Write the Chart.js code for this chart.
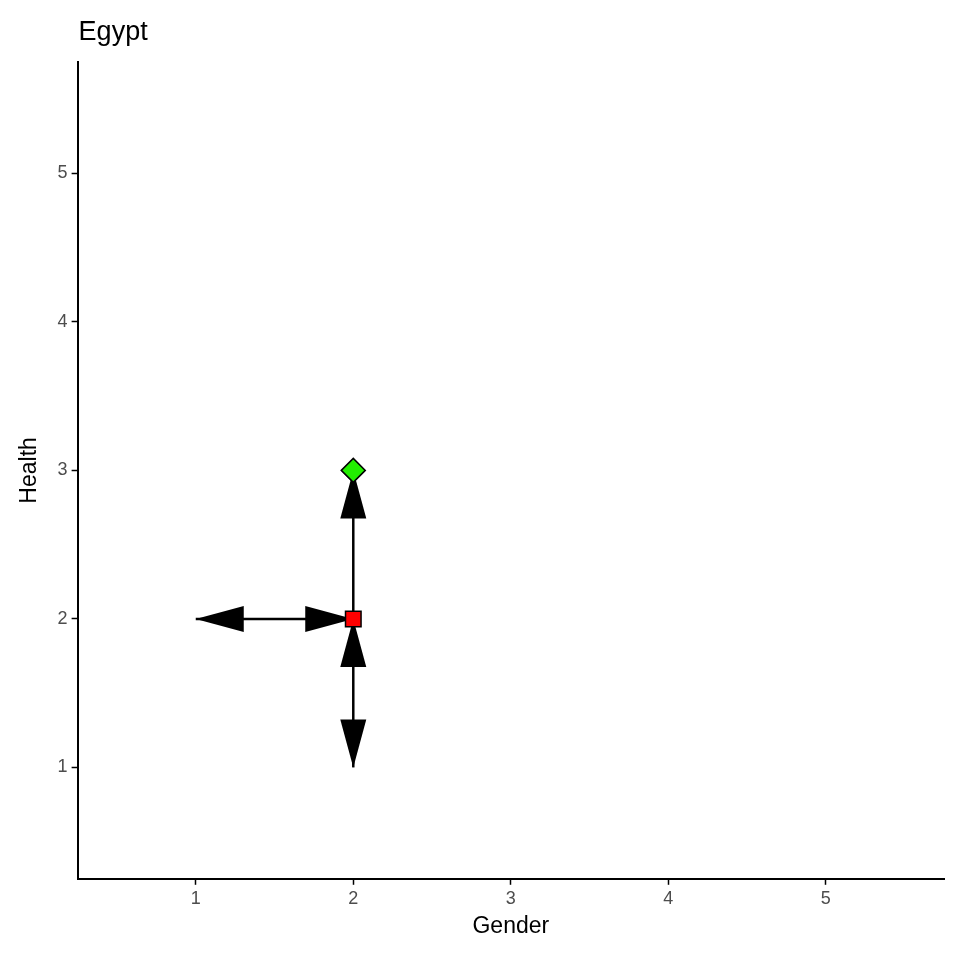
<!DOCTYPE html>
<html><head><meta charset="utf-8">
<script src="https://cdn.jsdelivr.net/npm/chart.js"></script>
<style>html,body{margin:0;padding:0;background:#fff}#w{width:960px;height:960px}</style>
</head><body><div id="w"><canvas id="c"></canvas></div>
<script>
const chartTitle = 'Egypt';
const tickValues = [1,2,3,4,5];
const squarePoints = [{x:2,y:2}];
const diamondPoints = [{x:2,y:3}];
// arrows: from, to, heads at start/end
const arrowFrom = [[2,2],[2,2],[2,2]];
const arrowTo   = [[1,2],[2,1],[2,3]];
const arrowStartHead = [true,true,false];
const arrowEndHead   = [true,true,true];

const arrowPlugin = {
  id:'arrows',
  beforeDatasetsDraw(chart){
    const {ctx, scales:{x,y}} = chart;
    ctx.save();
    ctx.strokeStyle='#000'; ctx.fillStyle='#000'; ctx.lineWidth=2.5;
    const head=(px,py,dx,dy)=>{
      const L=48,W=13;
      const bx=px-dx*L, by=py-dy*L;
      ctx.beginPath();
      ctx.moveTo(px,py);
      ctx.lineTo(bx-dy*W,by+dx*W);
      ctx.lineTo(bx+dy*W,by-dx*W);
      ctx.closePath(); ctx.fill();
    };
    for(let i=0;i<arrowFrom.length;i++){
      const x0=x.getPixelForValue(arrowFrom[i][0]), y0=y.getPixelForValue(arrowFrom[i][1]);
      const x1=x.getPixelForValue(arrowTo[i][0]), y1=y.getPixelForValue(arrowTo[i][1]);
      ctx.beginPath(); ctx.moveTo(x0,y0); ctx.lineTo(x1,y1); ctx.stroke();
      const len=Math.hypot(x1-x0,y1-y0), dx=(x1-x0)/len, dy=(y1-y0)/len;
      if(arrowEndHead[i]) head(x1,y1,dx,dy);
      if(arrowStartHead[i]) head(x0,y0,-dx,-dy);
    }
    ctx.restore();
  },
  afterDraw(chart){
    const ctx=chart.ctx;
    ctx.save();
    ctx.fillStyle='#000';ctx.font='27px "Liberation Sans", Arial';
    ctx.textBaseline='alphabetic';ctx.textAlign='left';
    ctx.fillText(chartTitle, chart.chartArea.left+1, 40);
    ctx.restore();
  }
};

const tickFont={family:'Liberation Sans, Arial',size:18};
const gridOpts={display:true,drawOnChartArea:false,drawTicks:true,tickLength:6,tickColor:'#000',tickWidth:1.5};
new Chart(document.getElementById('c'),{
  type:'scatter',
  data:{datasets:[
    {data:squarePoints,pointStyle:'rect',pointRadius:11,backgroundColor:'#ff0000',borderColor:'#000',borderWidth:1.5},
    {data:diamondPoints,pointStyle:'rectRot',pointRadius:12,backgroundColor:'#22ee00',borderColor:'#000',borderWidth:1.5}
  ]},
  options:{
    responsive:true,maintainAspectRatio:false,animation:false,
    layout:{padding:{left:12,right:16,top:62,bottom:16}},
    plugins:{legend:{display:false},tooltip:{enabled:false},title:{display:false}},
    scales:{
      x:{type:'linear',min:0.25,max:5.75,
        afterBuildTicks(s){s.ticks=tickValues.map(v=>({value:v}));},
        grid:gridOpts,
        border:{color:'#000',width:2},
        ticks:{color:'#4d4d4d',font:tickFont,padding:3},
        title:{display:true,text:'Gender',color:'#000',font:{family:'Liberation Sans, Arial',size:23},padding:{top:0}}},
      y:{type:'linear',min:0.25,max:5.75,
        afterBuildTicks(s){s.ticks=tickValues.map(v=>({value:v}));},
        grid:gridOpts,
        border:{color:'#000',width:2},
        ticks:{color:'#4d4d4d',font:tickFont,padding:4},
        title:{display:true,text:'Health',color:'#000',font:{family:'Liberation Sans, Arial',size:23},padding:{bottom:10}}}
    }
  },
  plugins:[arrowPlugin]
});
</script></body></html>
